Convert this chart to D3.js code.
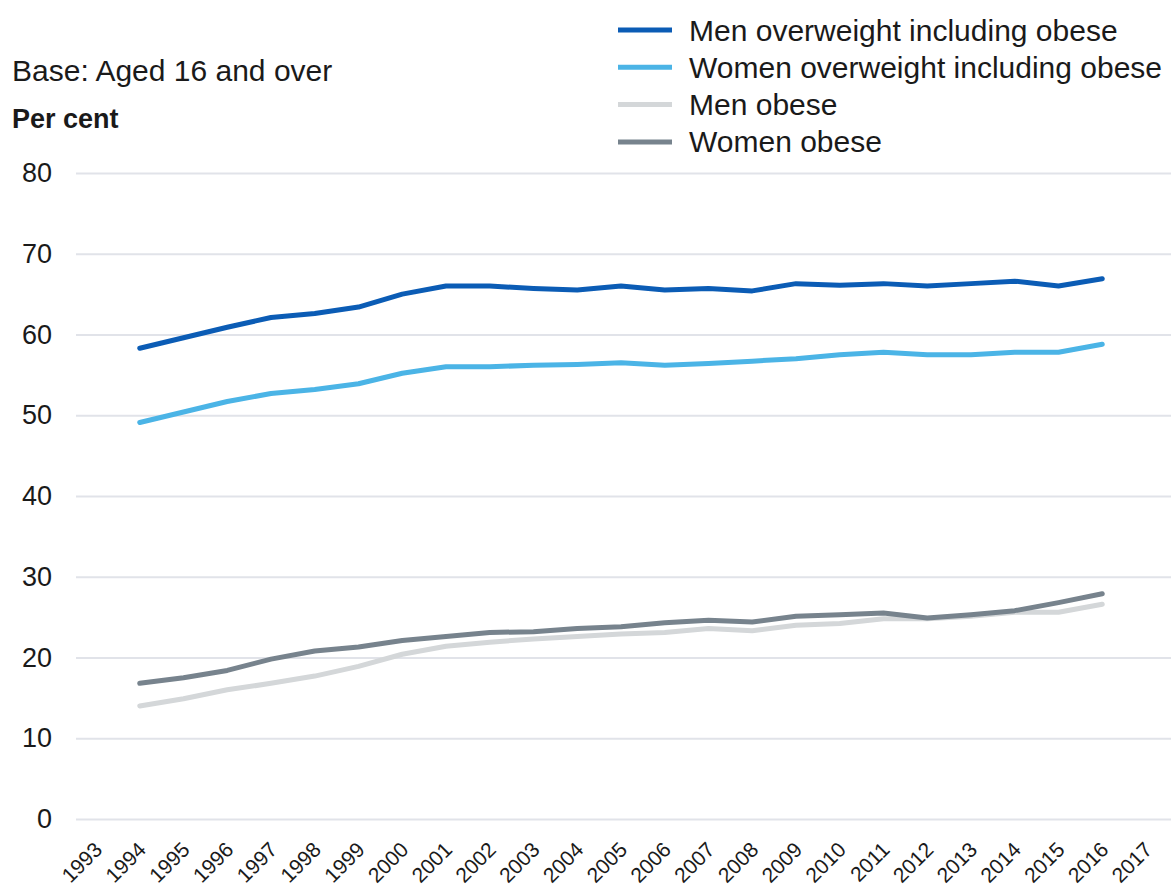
<!DOCTYPE html>
<html>
<head>
<meta charset="utf-8">
<script src="https://cdn.jsdelivr.net/npm/d3@7"></script>
<style>
  html, body { margin: 0; padding: 0; background: #ffffff; }
  svg { display: block; font-family: "Liberation Sans", Arial, Helvetica, sans-serif; }
</style>
</head>
<body>
<svg id="chart" width="1171" height="895"></svg>
<script>
// ---- Data ----
const years = [1994,1995,1996,1997,1998,1999,2000,2001,2002,2003,2004,2005,2006,2007,2008,2009,2010,2011,2012,2013,2014,2015,2016];
const axisYears = [1993,1994,1995,1996,1997,1998,1999,2000,2001,2002,2003,2004,2005,2006,2007,2008,2009,2010,2011,2012,2013,2014,2015,2016,2017];
const yTicks = [0,10,20,30,40,50,60,70,80];

const menOverweight   = [58.3,59.6,60.9,62.1,62.6,63.4,65.0,66.0,66.0,65.7,65.5,66.0,65.5,65.7,65.4,66.3,66.1,66.3,66.0,66.3,66.6,66.0,66.9];
const womenOverweight = [49.1,50.4,51.7,52.7,53.2,53.9,55.2,56.0,56.0,56.2,56.3,56.5,56.2,56.4,56.7,57.0,57.5,57.8,57.5,57.5,57.8,57.8,58.8];
const menObese        = [14.0,14.9,16.0,16.8,17.7,18.9,20.4,21.4,21.9,22.3,22.6,22.9,23.1,23.6,23.3,24.0,24.2,24.8,24.8,25.1,25.6,25.6,26.6];
const womenObese      = [16.8,17.5,18.4,19.8,20.8,21.3,22.1,22.6,23.1,23.2,23.6,23.8,24.3,24.6,24.4,25.1,25.3,25.5,24.9,25.3,25.8,26.8,27.9];

const seriesNames = ["Men overweight including obese","Women overweight including obese","Men obese","Women obese"];
const seriesColors = ["#0b5cb5","#4bb4e6","#d4d7d9","#77838d"];
const seriesValues = [menOverweight, womenOverweight, menObese, womenObese];

// ---- Layout ----
const svg = d3.select("#chart");
const x = d3.scaleLinear().domain([1993, 2017]).range([96, 1146]);
const y = d3.scaleLinear().domain([0, 80]).range([819, 173]);

// gridlines + y labels
const yAxis = d3.axisLeft(y).tickValues(yTicks).tickSize(-(1171 - 76)).tickPadding(24).tickFormat(d3.format("d"));
const gy = svg.append("g").attr("transform", "translate(76,0)").call(yAxis);
gy.select(".domain").remove();
gy.selectAll(".tick line").attr("stroke", "#e1e3e9").attr("stroke-width", 2);
gy.selectAll(".tick text")
  .attr("font-size", 27).attr("fill", "#1a1a1a")
  .attr("font-family", "Liberation Sans, Arial, sans-serif");

// x axis labels
const xAxis = d3.axisBottom(x).tickValues(axisYears).tickSize(0).tickFormat(d3.format("d"));
const gx = svg.append("g").attr("transform", "translate(0,835)").call(xAxis);
gx.select(".domain").remove();
gx.selectAll(".tick text")
  .attr("font-size", 21).attr("fill", "#1a1a1a")
  .attr("font-family", "Liberation Sans, Arial, sans-serif")
  .attr("text-anchor", "end")
  .attr("dy", 0).attr("y", 0).attr("x", 0)
  .attr("transform", "translate(7,16) rotate(-45)");

// lines (draw order: light first)
const line = d3.line().x((d, i) => x(years[i])).y(d => y(d)).curve(d3.curveLinear);
const order = [2, 3, 1, 0];
order.forEach(k => {
  svg.append("path")
    .datum(seriesValues[k])
    .attr("d", line)
    .attr("fill", "none")
    .attr("stroke", seriesColors[k])
    .attr("stroke-width", 5)
    .attr("stroke-linejoin", "round")
    .attr("stroke-linecap", "round");
});

// Base & per cent
svg.append("text").attr("x", 12).attr("y", 81).attr("font-size", 30).attr("fill", "#1a1a1a")
  .text("Base: Aged 16 and over");
svg.append("text").attr("x", 12).attr("y", 128).attr("font-size", 27).attr("font-weight", "bold").attr("fill", "#1a1a1a")
  .text("Per cent");

// legend
const legend = svg.append("g");
seriesNames.forEach((name, i) => {
  const cy = 30 + i * 37.3;
  legend.append("line").attr("x1", 618).attr("x2", 672).attr("y1", cy).attr("y2", cy)
    .attr("stroke", seriesColors[i]).attr("stroke-width", 5);
  legend.append("text").attr("x", 689).attr("y", cy).attr("dy", "0.35em")
    .attr("font-size", 30).attr("fill", "#1a1a1a").text(name);
});
</script>
</body>
</html>
